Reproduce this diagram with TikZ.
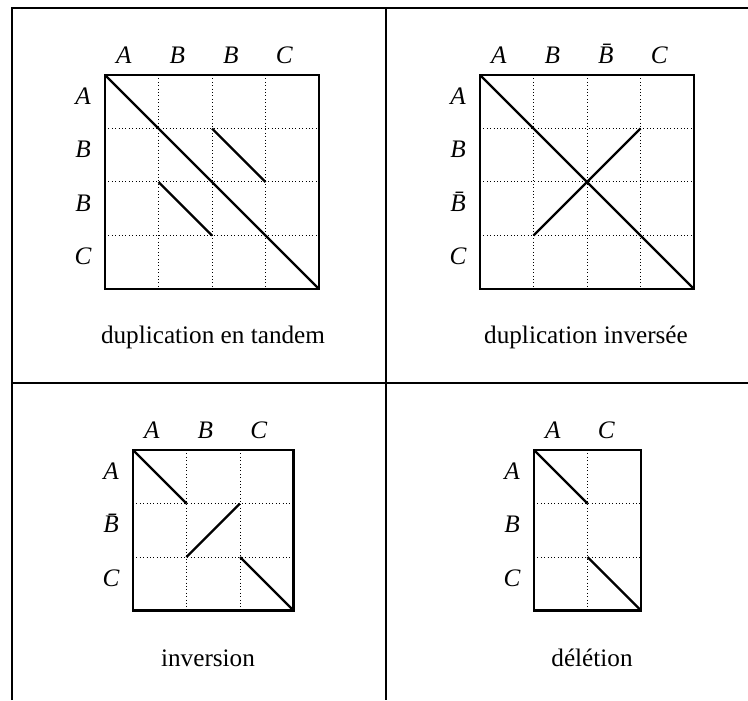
\documentclass[tikz,border=0pt]{standalone}
\usepackage{fontspec}
\setmainfont{Liberation Serif}
\begin{document}
\begin{tikzpicture}[x=0.5pt,y=-0.5pt,
  frame/.style={line width=1.2pt},
  box/.style={line width=1.3pt},
  hit/.style={line width=1.2pt},
  dots/.style={line width=0.5pt,dash pattern=on 0.5pt off 1.2pt},
  lbl/.style={anchor=base,inner sep=0pt,font=\fontsize{12.6}{15}\selectfont\itshape},
  legende/.style={anchor=base,inner sep=0pt,font=\fontsize{12.6}{15}\selectfont}]

\useasboundingbox (0,0) rectangle (748,700);

% cadre
\draw[frame] (12,700) -- (12,8) -- (748,8);
\draw[frame] (386,8) -- (386,700);
\draw[frame] (12,383) -- (748,383);

% duplication en tandem
\begin{scope}[shift={(105,75)},x=26.75pt,y=-26.75pt]
\draw[dots] (1,0) -- (1,4) (2,0) -- (2,4) (3,0) -- (3,4);
\draw[dots] (0,1) -- (4,1) (0,2) -- (4,2) (0,3) -- (4,3);
\draw[box] (0,0) rectangle (4,4);
\draw[hit] (0,0) -- (4,4);
\draw[hit] (2,1) -- (3,2);
\draw[hit] (1,2) -- (2,3);
\node[lbl] (tdA) at (0.35,-0.22) {A};
\node[lbl] (tdB) at (1.35,-0.22) {B};
\node[lbl] (tdBb) at (2.35,-0.22) {B};
\node[lbl] (tdC) at (3.35,-0.22) {C};
\node[lbl] (tdrA) at (-0.41,0.55) {A};
\node[lbl] (tdrB) at (-0.41,1.55) {B};
\node[lbl] (tdrBb) at (-0.41,2.55) {B};
\node[lbl] (tdrC) at (-0.41,3.55) {C};
\end{scope}
\node[legende] (captd) at (213,343) {duplication en tandem};

% duplication inversee
\begin{scope}[shift={(480,75)},x=26.75pt,y=-26.75pt]
\draw[dots] (1,0) -- (1,4) (2,0) -- (2,4) (3,0) -- (3,4);
\draw[dots] (0,1) -- (4,1) (0,2) -- (4,2) (0,3) -- (4,3);
\draw[box] (0,0) rectangle (4,4);
\draw[hit] (0,0) -- (4,4);
\draw[hit] (1,3) -- (3,1);
\node[lbl] (diA) at (0.35,-0.22) {A};
\node[lbl] (diB) at (1.35,-0.22) {B};
\node[lbl] (diBb) at (2.35,-0.22) {\=B};
\node[lbl] (diC) at (3.35,-0.22) {C};
\node[lbl] (dirA) at (-0.41,0.55) {A};
\node[lbl] (dirB) at (-0.41,1.55) {B};
\node[lbl] (dirBb) at (-0.41,2.55) {\=B};
\node[lbl] (dirC) at (-0.41,3.55) {C};
\end{scope}
\node[legende] (capdi) at (586,343) {duplication inversée};

% inversion
\begin{scope}[shift={(133,450)},x=26.75pt,y=-26.75pt]
\draw[dots] (1,0) -- (1,3) (2,0) -- (2,3);
\draw[dots] (0,1) -- (3,1) (0,2) -- (3,2);
\draw[box] (0,0) rectangle (3,3);
\draw[hit] (0,0) -- (1,1);
\draw[hit] (1,2) -- (2,1);
\draw[hit] (2,2) -- (3,3);
\node[lbl] (inA) at (0.35,-0.22) {A};
\node[lbl] (inB) at (1.35,-0.22) {B};
\node[lbl] (inC) at (2.35,-0.22) {C};
\node[lbl] (inrA) at (-0.41,0.55) {A};
\node[lbl] (inrBb) at (-0.41,1.55) {\=B};
\node[lbl] (inrC) at (-0.41,2.55) {C};
\end{scope}
\node[legende] (capin) at (208,666) {inversion};

% deletion
\begin{scope}[shift={(534,450)},x=26.75pt,y=-26.75pt]
\draw[dots] (1,0) -- (1,3);
\draw[dots] (0,1) -- (2,1) (0,2) -- (2,2);
\draw[box] (0,0) rectangle (2,3);
\draw[hit] (0,0) -- (1,1);
\draw[hit] (1,2) -- (2,3);
\node[lbl] (deA) at (0.35,-0.22) {A};
\node[lbl] (deC) at (1.35,-0.22) {C};
\node[lbl] (derA) at (-0.41,0.55) {A};
\node[lbl] (derB) at (-0.41,1.55) {B};
\node[lbl] (derC) at (-0.41,2.55) {C};
\end{scope}
\node[legende] (capde) at (592,666) {délétion};

\end{tikzpicture}
\end{document}
